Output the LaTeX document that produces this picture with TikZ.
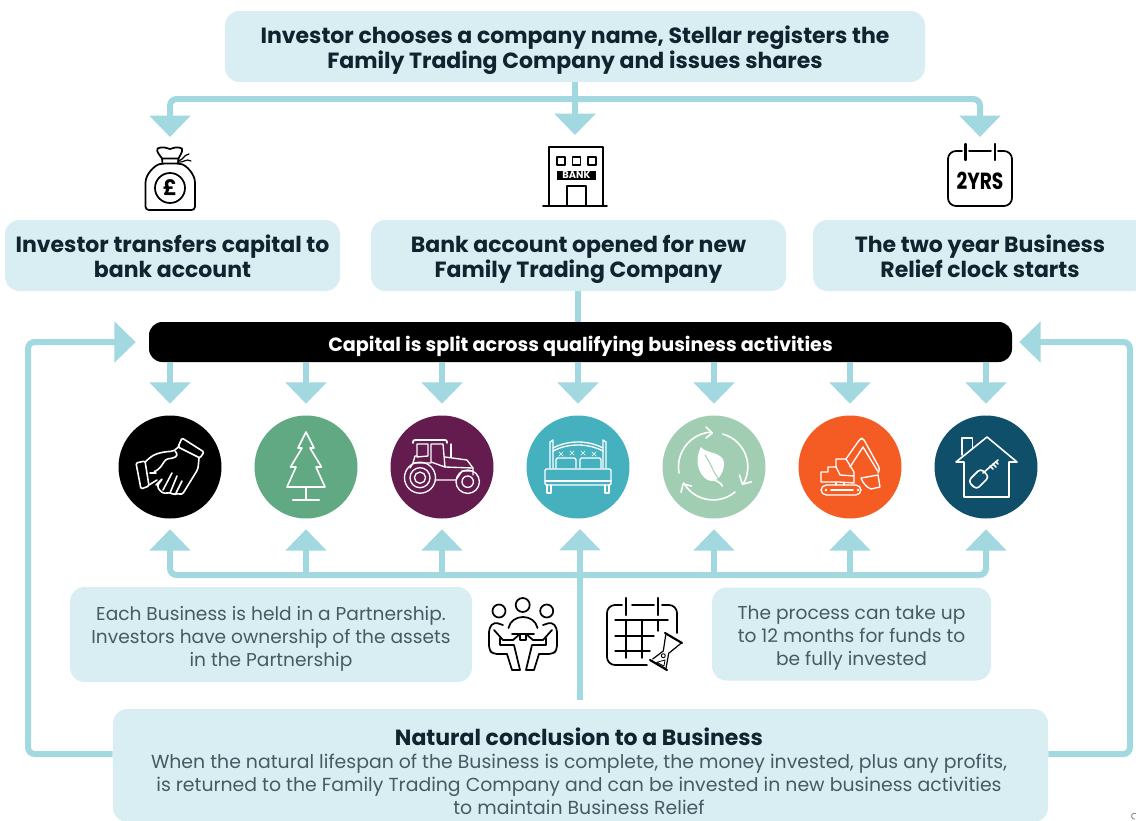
\documentclass[tikz,border=0pt]{standalone}
\usepackage{fontspec}
\usepackage{graphicx}
\setmainfont{Poppins}
\usetikzlibrary{arrows.meta}
\definecolor{flowtint}{HTML}{A2D8DF}
\definecolor{boxtint}{HTML}{D9EEF2}
\definecolor{headink}{HTML}{10232E}
\definecolor{bodyink}{HTML}{465A63}
\definecolor{discblack}{HTML}{000000}
\definecolor{discgreen}{HTML}{60A982}
\definecolor{discplum}{HTML}{641C4E}
\definecolor{discteal}{HTML}{45B1BE}
\definecolor{discsage}{HTML}{A1CDB3}
\definecolor{discorange}{HTML}{F55C23}
\definecolor{discnavy}{HTML}{0F4F69}
\def\u{.75pt}
\newcommand{\headgap}{\rule{0pt}{18.5pt}}
\newcommand{\bodygap}{\rule{0pt}{17.75pt}}
\newcommand{\lastgap}{\rule[-5pt]{0pt}{0pt}}
\tikzset{
	flowline/.style={draw=flowtint,line width=4.5pt,rounded corners=5pt,-{Triangle[length=16pt,width=30pt]}},
	plainflow/.style={draw=flowtint,line width=4.5pt,rounded corners=5pt},
	infobox/.style={fill=boxtint,rounded corners=11pt,inner sep=0pt,align=center},
	headtext/.style={text=headink,font=\bfseries\fontsize{16.5}{18.75}\selectfont},
	bodytext/.style={text=bodyink,font=\fontsize{13.95}{17.25}\selectfont},
	disc/.style={circle,minimum size=103*\u,inner sep=0pt},
	blackicon/.style={draw=black,line width=1.3pt,line join=round,line cap=round},
	whiteicon/.style={draw=white,line width=1.2pt,line join=round,line cap=round},
}
\begin{document}
\begin{tikzpicture}[x=\u,y=-\u]
	\clip (0,0) rectangle (1136,821);
	\fill[white] (0,0) rectangle (1136,821);
	% boxes
	\node[infobox,headtext,minimum width=700*\u,minimum height=71*\u] (namebox) at (575,46.5) {\headgap Investor chooses a company name, Stellar registers the\\Family Trading Company and issues shares\lastgap};
	\node[infobox,headtext,minimum width=335*\u,minimum height=71*\u] (capitalbox) at (172.5,255.5) {\headgap Investor transfers capital to\\bank account\lastgap};
	\node[infobox,headtext,minimum width=415*\u,minimum height=71*\u] (bankbox) at (578.5,255.5) {\headgap Bank account opened for new\\Family Trading Company\lastgap};
	\node[infobox,headtext,minimum width=334*\u,minimum height=71*\u] (clockbox) at (980,255.5) {\headgap The two year Business\\Relief clock starts\lastgap};
	\node[fill=black,rounded corners=10pt,text=white,font=\bfseries\fontsize{14.4}{16}\selectfont,minimum width=863*\u,minimum height=40*\u,inner sep=0pt] (splitbar) at (580.5,342) {\rule{0pt}{19.25pt}Capital is split across qualifying business activities\lastgap};
	\node[infobox,bodytext,minimum width=402*\u,minimum height=95*\u] (partnerbox) at (271,634.5) {\bodygap Each Business is held in a Partnership.\\Investors have ownership of the assets\\in the Partnership\lastgap};
	\node[infobox,bodytext,minimum width=279*\u,minimum height=93*\u] (monthsbox) at (851.5,634) {\bodygap The process can take up\\to 12 months for funds to\\be fully invested\lastgap};
	\node[infobox,minimum width=935*\u,minimum height=113*\u] (endbox) at (580.5,765.5) {};
	\node[bodytext,font=\fontsize{14.15}{17.25}\selectfont,align=center,inner sep=0pt] (endtext) at (579,771) {{\color{headink}\bfseries\fontsize{16.5}{17.25}\selectfont Natural conclusion to a Business}\\When the natural lifespan of the Business is complete, the money invested, plus any profits,\\is returned to the Family Trading Company and can be invested in new business activities\\to maintain Business Relief};
	% discs
	\foreach \name/\xpos/\tint in {shake/170/discblack,tree/306/discgreen,tractor/442/discplum,bed/578/discteal,leaf/714/discsage,digger/850/discorange,house/986/discnavy} {
		\node[disc,fill=\tint] (\name) at (\xpos,467) {};
	};
	% top arrows
	\coordinate (namesplit) at (575,99);
	\coordinate (moneytip) at (170,137);
	\coordinate (buildingtip) at (575,135);
	\coordinate (calendartip) at (980,137);
	\draw[flowline] (namesplit) -| (moneytip);
	\draw[flowline] (namesplit) -| (calendartip);
	\draw[flowline] (namebox.south) -- (buildingtip);
	\draw[plainflow] (bankbox.south -| splitbar) ++(-2.5,0) -- ++(0,31);
	% arrows round the discs
	\foreach \name in {shake,tree,tractor,bed,leaf,digger,house} {
		\draw[flowline] (splitbar.south -| \name) -- ([yshift=11.5*\u]\name.north);
	};
	\coordinate (railmid) at (580,575);
	\coordinate (riserstart) at (580,700);
	\draw[flowline] (railmid) -| ([yshift=-10.5*\u]shake.south);
	\draw[flowline] (railmid) -| ([yshift=-10.5*\u]house.south);
	\foreach \name in {tree,tractor,leaf,digger} {
		\draw[flowline] (railmid -| \name) -- ([yshift=-10.5*\u]\name.south);
	};
	\draw[flowline] (riserstart) -- (580,529);
	% return loops
	\coordinate (leftloop) at (28,754);
	\coordinate (rightloop) at (1130,754);
	\draw[flowline] (endbox.west |- leftloop) -- (leftloop) -- (leftloop |- splitbar) -- ([xshift=-13*\u]splitbar.west);
	\draw[flowline] (endbox.east |- rightloop) -- (rightloop) -- (rightloop |- splitbar) -- ([xshift=7*\u]splitbar.east);
	% money bag
	\begin{scope}[blackicon]
		\draw[rounded corners=2.5pt] (145.5,210) -- (145.5,186) .. controls (145.5,174) and (155,165) .. (163,163.5) -- (178,163.5) .. controls (186,165) and (195,174) .. (195,186) -- (195,210) -- cycle;
		\draw (170,188) circle[radius=15*\u];
		\draw (162.5,163.5) -- (162,158.5) -- (178.5,158.5) -- (178,163.5);
		\draw (162,158.5) .. controls (160,155) and (156,152) .. (157.5,148.5) .. controls (163,146) and (166,148) .. (170,149) .. controls (174,148) and (177,146) .. (182,148.5) .. controls (183,152) and (180,155) .. (178.5,158.5);
		\draw[line width=.9pt] (178,161) .. controls (184,160) and (183,155) .. (189,154);
		\draw[line width=.9pt] (178,162) .. controls (184,163) and (186,158) .. (191,161);
	\end{scope}
	\node[font=\bfseries\fontsize{16}{16}\selectfont,inner sep=0pt] (poundsign) at (170,188) {£};
	% bank
	\begin{scope}[blackicon]
		\draw (549,206) -- (549,147) -- (603,147) -- (603,206);
		\draw (543,206) -- (607,206);
		\draw (567,206) -- (567,186) -- (586,186) -- (586,206);
		\foreach \column in {0,...,2} {
			\draw[line width=.8pt] ({557+15.5*\column},157) rectangle +(8,8);
		};
	\end{scope}
	\node[fill=black,text=white,font=\bfseries\fontsize{7.4}{8}\selectfont,minimum width=39*\u,minimum height=9*\u,inner sep=0pt,text depth=0pt,text height=5pt] (banklabel) at (576.5,175.5) {BANK};
	% two year calendar
	\begin{scope}[blackicon]
		\draw[rounded corners=6pt] (962,151) -- (948,151) -- (948,206) -- (1012,206) -- (1012,151) -- (998,151);
		\draw (969,151) -- (991,151);
		\draw[line width=1.7pt] (965.5,144) -- (965.5,160);
		\draw[line width=1.7pt] (995,144) -- (995,160);
	\end{scope}
	\node[font=\bfseries\fontsize{17.5}{18}\selectfont,inner sep=0pt] (yearlabel) at (980,181) {\scalebox{.8}[1]{2YRS}};
	% handshake
	\begin{scope}[shift={(shake)},whiteicon]
		\draw[rounded corners=1pt] (-34,-4) -- (-25,-6) -- (-21,19) -- (-29,22) -- cycle;
		\draw[rounded corners=1pt] (12,-29) -- (34,-15) -- (30,-9) -- (8,-20) -- cycle;
		\draw[rounded corners=3pt] (-25,-5) -- (-17,-12) -- (-7,-15) -- (5,-16) -- (9,-21);
		\draw[rounded corners=2pt] (5,-16) -- (8,-12) -- (4,-9) -- (-4,-8) -- (-10,1) -- (-17,6) -- (-15,4);
		\draw[rounded corners=2pt] (29,-9) -- (28,2) -- (20,15) -- (12,28) -- (7,26) -- (4,28) -- (-1,25) -- (-5,27) -- (-10,24) -- (-13,19) -- (-7,11) -- (-14,18);
		\draw (2,6) -- (-7,23);
		\draw (7,9) -- (0,26);
		\draw (12,14) -- (6,26);
		\draw (-21,18) -- (-13,13);
		\draw (-14,6) -- (-20,6);
	\end{scope}
	% tree
	\begin{scope}[shift={(tree)},whiteicon]
		\draw (0,-35) -- (8,-19) -- (4,-19) -- (15.5,0) -- (10,0) -- (19,20) -- (-19,20) -- (-10,0) -- (-15.5,0) -- (-4,-19) -- (-8,-19) -- cycle;
		\draw (0,20) -- (0,33);
		\draw[line width=1.7pt] (-13,33) -- (13,33);
	\end{scope}
	% tractor
	\begin{scope}[shift={(tractor)},whiteicon,line width=1pt]
		\foreach \radius in {15.5,10,5.6} {
			\draw (-22,10.7) circle[radius=\radius*\u];
		};
		\foreach \radius in {11.7,5.7} {
			\draw (25.7,14.7) circle[radius=\radius*\u];
		};
		\draw[rounded corners=1.5pt,line width=1.3pt] (-29,-24) -- (-29,-27) -- (5,-27) -- (5,-24);
		\draw (-25,-10) -- (-25,-23) -- (-14,-23) -- (-14,-11) -- cycle;
		\draw (-11,-23) -- (1,-23) -- (3,0) -- (-11,-5) -- cycle;
		\draw (-29,-4) -- (-27,-11) -- (-25,-11);
		\draw (-32,1) -- (-29,-4) -- (-11,-4);
		\draw (3,-10) -- (25,-7) -- (31,1) -- (31,8);
		\draw (9,-23) -- (9,-10);
		\draw (3,0) -- (31,1);
		\draw (-7,13) -- (14,13) -- (20,4) -- (30,4);
	\end{scope}
	% bed
	\begin{scope}[shift={(bed)},whiteicon,line width=1pt]
		\draw (-28,1) -- (-28,-25) -- (-25,-27) -- (-25,1);
		\draw (28,1) -- (28,-25) -- (25,-27) -- (25,1);
		\draw (-25,-19) .. controls (-10,-27) and (10,-27) .. (25,-19);
		\draw (-25,-16) .. controls (-10,-24) and (10,-24) .. (25,-16);
		\draw[rounded corners=1.5pt] (-22,1) -- (-22,-9) -- (-2,-9) -- (-2,1);
		\draw[rounded corners=1.5pt] (2,1) -- (2,-9) -- (23,-9) -- (23,1);
		\draw[rounded corners=1pt] (-33,2) rectangle (33,18);
		\draw (-33,14) -- (33,14);
		\draw (-31,18) -- (-31,26) -- (-27,26) -- (-27,18);
		\draw (31,18) -- (31,26) -- (27,26) -- (27,18);
		\foreach \xpos/\ypos in {-17/-13,-6/-14,5/-14,16/-13} {
			\draw[line width=.5pt] (\xpos-2.2,\ypos-2.2) -- (\xpos+2.2,\ypos+2.2) (\xpos-2.2,\ypos+2.2) -- (\xpos+2.2,\ypos-2.2);
		};
	\end{scope}
	% leaf and recycling arrows
	\begin{scope}[shift={(leaf)},whiteicon]
		\draw (-35,6) arc[start angle=190,end angle=93,radius=35*\u];
		\draw (-8,-40) -- (-1.7,-34) -- (-8,-29);
		\draw (8.6,-33) arc[start angle=75,end angle=-30,radius=34*\u];
		\draw (25.5,8) -- (28.4,17.3) -- (37.5,14.7);
		\draw (21,25) arc[start angle=-50,end angle=-150,radius=34*\u];
		\draw (-22.4,19) -- (-31,17) -- (-33,25.3);
		\fill[white] (-13,-20) .. controls (-10,-14) and (10,-15) .. (10,-4) .. controls (10,7) and (3,15) .. (-3,14) .. controls (-12,13) and (-22,-3) .. cycle;
		\draw (-3,12) .. controls (3,14) and (6,15) .. (8.5,19);
		\draw[discsage,line width=.7pt] (-9,-12) .. controls (-2,-2) and (0,8) .. (6,13);
	\end{scope}
	% digger
	\begin{scope}[shift={(digger)},whiteicon,line width=1pt]
		\draw[rounded corners=4pt] (-29,18) rectangle (11,28);
		\draw[line width=1.4pt] (-19,23) -- (3,23);
		\fill[white] (-24,23) circle[radius=1.4*\u] (8,23) circle[radius=1.4*\u];
		\draw (-11,15) -- (-29,15) -- (-29,5) -- (-22,5) -- (-22,0) -- (-14,0) -- (-14,-8) -- (-4,-8) -- (4,5) -- (4,16) -- cycle;
		\draw (-14,0) -- (-10,8) -- (4,9);
		\draw (-14,15) -- (-14,18);
		\draw (-6,16) -- (-6,18);
		\draw[rounded corners=2pt] (-4,-8) -- (10,-28) -- (13,-29) -- (30,2) -- (28,6);
		\draw (0,0) -- (13,-20) -- (27.6,4);
		\draw (11,11) -- (28,8) -- (30,20) -- (21,22) .. controls (16,20) and (13,16) .. (11,11);
	\end{scope}
	% house and key
	\begin{scope}[shift={(house)},whiteicon]
		\draw (1,-30) -- (31,-5) -- (23,-5) -- (23,30) -- (-22,30) -- (-22,-5) -- (-30,-5) -- cycle;
		\draw (-24,-12) -- (-24,-29) -- (-13.5,-29) -- (-13.5,-19);
		\draw[rotate around={45:(-7.4,12)},rounded corners=3pt] (-16.4,6) rectangle (1.6,18);
		\draw (-3,6) -- (12,-7);
		\draw (4,-1) -- (7,2) (7,-3) -- (10,0) (10,-5) -- (12,-3);
	\end{scope}
	% people round a table
	\begin{scope}[blackicon]
		\draw (499,611) circle[radius=6.5*\u];
		\draw (522.7,605) circle[radius=7*\u];
		\draw (546.7,611) circle[radius=6.5*\u];
		\draw (508.5,628) .. controls (510,621) and (516,617) .. (523,617) .. controls (530,617) and (536,621) .. (537.5,628);
		\foreach \mirror/\shiftx in {1/0,-1/1046} {
			\begin{scope}[xscale=\mirror,xshift=-\shiftx*\u]
				\draw[rounded corners=3pt] (503,625) -- (494,622) -- (489,628) -- (489,650) -- (493,654) -- (507,654);
				\draw (507,654) -- (512,670) -- (520,670) -- (514,645) -- (500,645) -- (500,638);
				\draw (494,630) -- (503,640) -- (513,640) -- (520,634);
			\end{scope}
		};
		\draw (512,634) -- (534,634);
		\draw (520,634) -- (520,640) -- (526,640) -- (526,634);
	\end{scope}
	% calendar with hourglass
	\begin{scope}[blackicon]
		\draw[rounded corners=6pt] (622,605) -- (607,605) -- (607,665) -- (647,665);
		\draw[rounded corners=6pt] (662,605) -- (677,605) -- (677,633);
		\draw (632,605) -- (654,605);
		\draw[line width=1.8pt] (626,598) -- (626,615);
		\draw[line width=1.8pt] (658,598) -- (658,615);
		\draw[line width=1pt] (615,620) -- (668,620) (615,636) -- (654,636) (615,651) -- (650,651);
		\draw[line width=1pt] (626,620) -- (626,658) (642,620) -- (642,658) (658,620) -- (658,631);
		\draw[line width=1.6pt] (665,633) -- (682,643);
		\draw[line width=1.6pt] (650,660) -- (667,670);
		\draw[line width=.9pt] (665.7,635) -- (663.3,651) -- (652.7,659);
		\draw[line width=.9pt] (681,643.3) -- (668.7,653.3) -- (666,668.3);
		\draw[line width=.6pt] (656.7,662.3) -- (665,660) -- (664,666) -- cycle;
		\draw[line width=.7pt] (663.3,655.7) circle[radius=2*\u];
	\end{scope}
	% cut edge mark
	\draw[gray,line width=.6pt] (1136,813.5) arc[start angle=60,end angle=280,radius=3*\u];
\end{tikzpicture}
\end{document}
